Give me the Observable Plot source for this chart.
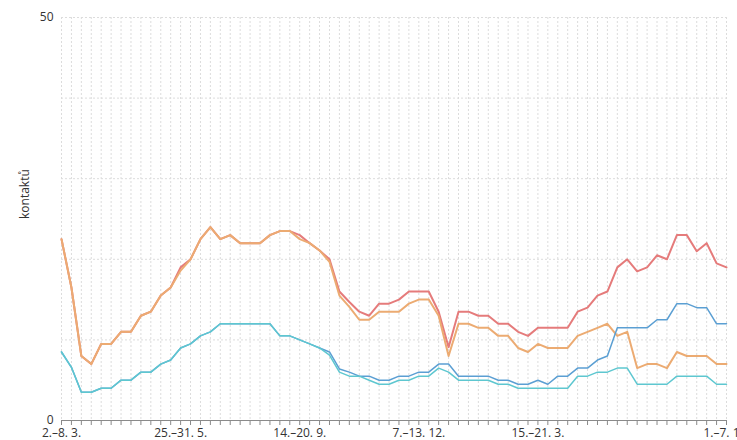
<!DOCTYPE html>
<html><head><meta charset="utf-8">
<script src="https://cdn.jsdelivr.net/npm/d3@7"></script>
<script src="https://cdn.jsdelivr.net/npm/@observablehq/plot@0.6"></script>
<style>html,body{margin:0;padding:0;background:#fff;overflow:hidden;}</style>
</head><body><div id="chart"></div>
<script>
const tickIndex = [0, 12, 24, 36, 48, 67];
const tickLabels = ["2.–8. 3.", "25.–31. 5.", "14.–20. 9.", "7.–13. 12.", "15.–21. 3.", "1.–7. 11."];
const yLabel = "kontaktů";
const yTicks = [0, 50];
const yGrid = [0, 10, 20, 30, 40, 50];

const red = [
  22.5, 16.5, 8.0, 7.0, 9.5, 9.5, 11.0, 11.0, 13.0, 13.5,
  15.5, 16.5, 19.0, 20.0, 22.5, 24.0, 22.5, 23.0, 22.0, 22.0,
  22.0, 23.0, 23.5, 23.5, 23.0, 22.0, 21.1, 20.0, 16.0, 14.7,
  13.5, 13.0, 14.5, 14.5, 15.0, 16.0, 16.0, 16.0, 13.5, 9.1,
  13.5, 13.5, 13.0, 13.0, 12.0, 12.0, 11.0, 10.5, 11.5, 11.5,
  11.5, 11.5, 13.5, 14.0, 15.5, 16.0, 19.0, 20.0, 18.5, 19.0,
  20.5, 20.0, 23.0, 23.0, 21.0, 22.0, 19.5, 19.0
];
const orange = [
  22.5, 16.5, 8.0, 7.0, 9.5, 9.5, 11.0, 11.0, 13.0, 13.5,
  15.5, 16.5, 18.6, 20.0, 22.5, 24.0, 22.5, 23.0, 22.0, 22.0,
  22.0, 23.0, 23.5, 23.5, 22.5, 22.0, 21.1, 19.7, 15.5, 14.1,
  12.5, 12.5, 13.5, 13.5, 13.5, 14.5, 15.0, 15.0, 13.0, 8.0,
  12.0, 12.0, 11.5, 11.5, 10.5, 10.5, 9.0, 8.5, 9.5, 9.0,
  9.0, 9.0, 10.5, 11.0, 11.5, 12.0, 10.5, 11.0, 6.5, 7.0,
  7.0, 6.5, 8.5, 8.0, 8.0, 8.0, 7.0, 7.0
];
const blue = [
  8.5, 6.6, 3.5, 3.5, 4.0, 4.0, 5.0, 5.0, 6.0, 6.0,
  7.0, 7.5, 9.0, 9.5, 10.5, 11.0, 12.0, 12.0, 12.0, 12.0,
  12.0, 12.0, 10.5, 10.5, 10.0, 9.5, 9.0, 8.5, 6.4, 6.0,
  5.5, 5.5, 5.0, 5.0, 5.5, 5.5, 6.0, 6.0, 7.0, 7.0,
  5.5, 5.5, 5.5, 5.5, 5.0, 5.0, 4.5, 4.5, 5.0, 4.5,
  5.5, 5.5, 6.5, 6.5, 7.5, 8.0, 11.5, 11.5, 11.5, 11.5,
  12.5, 12.5, 14.5, 14.5, 14.0, 14.0, 12.0, 12.0
];
const cyan = [
  8.5, 6.6, 3.5, 3.5, 4.0, 4.0, 5.0, 5.0, 6.0, 6.0,
  7.0, 7.5, 9.0, 9.5, 10.5, 11.0, 12.0, 12.0, 12.0, 12.0,
  12.0, 12.0, 10.5, 10.5, 10.0, 9.5, 9.0, 8.1, 6.0, 5.5,
  5.5, 5.0, 4.5, 4.5, 5.0, 5.0, 5.5, 5.5, 6.5, 6.0,
  5.0, 5.0, 5.0, 5.0, 4.5, 4.5, 4.0, 4.0, 4.0, 4.0,
  4.0, 4.0, 5.5, 5.5, 6.0, 6.0, 6.5, 6.5, 4.5, 4.5,
  4.5, 4.5, 5.5, 5.5, 5.5, 5.5, 4.5, 4.5
];

const weeks = red.map((_, i) => i);
const labelMap = new Map(tickIndex.map((t, k) => [t, tickLabels[k]]));
const series = [
  {key: "red", values: red, color: "#e57b7b", width: 2},
  {key: "orange", values: orange, color: "#ecab72", width: 2},
  {key: "blue", values: blue, color: "#5b9fd3", width: 1.5},
  {key: "cyan", values: cyan, color: "#5ec7d0", width: 1.5}
];

const lineMarks = series.map(s =>
  Plot.line(s.values.map((v, i) => ({i, v})), {
    x: "i", y: "v", stroke: s.color, strokeWidth: s.width,
    strokeLinejoin: "round", strokeLinecap: "round"
  })
);

const chart = Plot.plot({
  width: 737,
  height: 440,
  marginLeft: 61,
  marginRight: 11,
  marginTop: 17,
  marginBottom: 20,
  style: {fontFamily: "'Open Sans', sans-serif", fontSize: "12px", color: "#333", background: "#fff"},
  x: {type: "linear", domain: [0, weeks.length - 1], axis: null, label: null},
  y: {domain: [0, 50], axis: null, label: null},
  marks: [
    Plot.gridX(weeks, {stroke: "#dcdcdc", strokeOpacity: 1, strokeDasharray: "2,2"}),
    Plot.gridY(yGrid, {stroke: "#dcdcdc", strokeOpacity: 1, strokeDasharray: "2,2"}),
    Plot.ruleY([0], {stroke: "#8a8a8a"}),
    Plot.axisX(weeks, {tickSize: 5, tickPadding: 3, stroke: "#8a8a8a", label: null,
      tickFormat: i => labelMap.get(i) ?? null}),
    Plot.axisY(yTicks, {tickSize: 0, tickPadding: 8, label: null}),
    Plot.text([yLabel], {frameAnchor: "left", dx: -36, rotate: -90, fill: "#333"}),
    ...lineMarks
  ]
});
document.getElementById("chart").appendChild(chart);
</script>
</body></html>
